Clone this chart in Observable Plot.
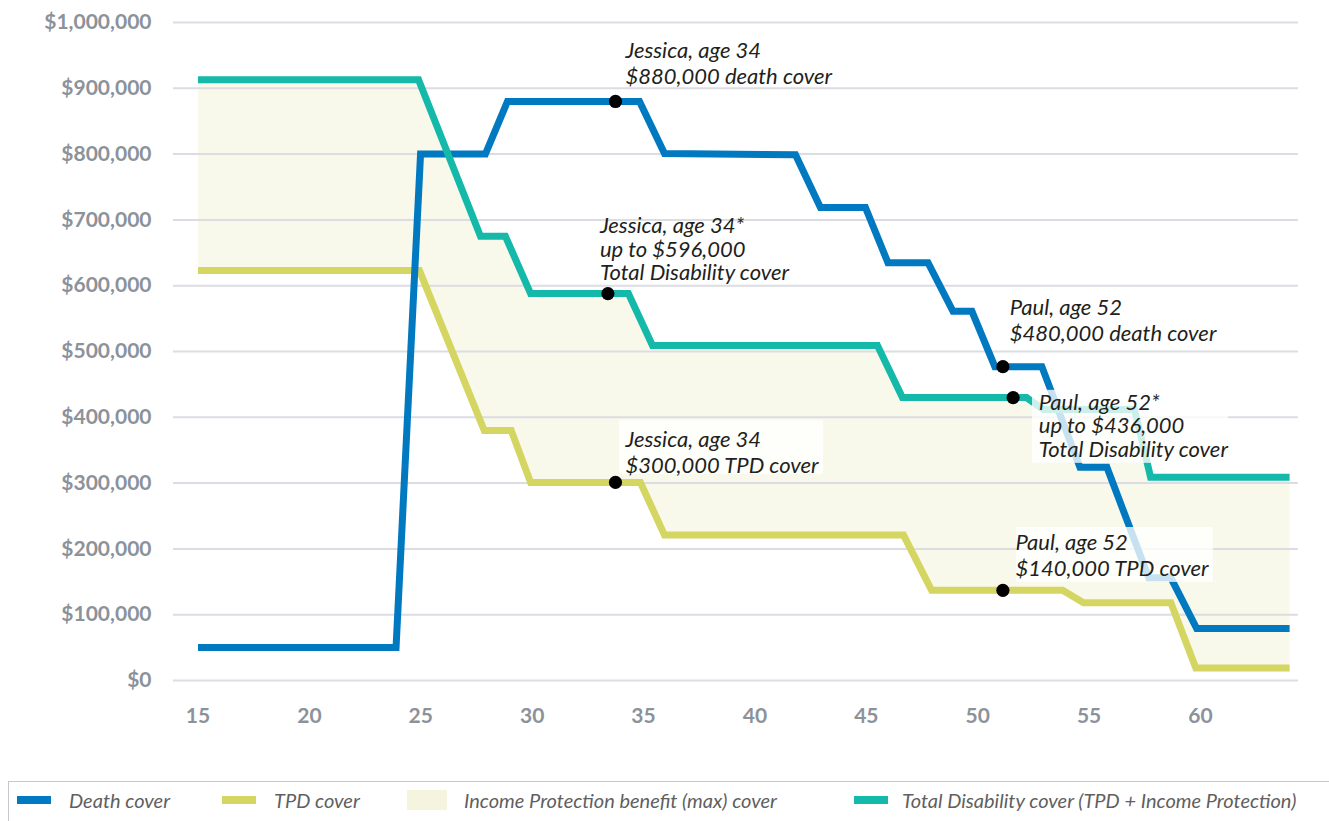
<!DOCTYPE html>
<html>
<head>
<meta charset="utf-8">
<script src="https://cdn.jsdelivr.net/npm/d3@7"></script>
<script src="https://cdn.jsdelivr.net/npm/@observablehq/plot@0.6"></script>
<style>
  html, body { margin: 0; padding: 0; background: #fff; }
  body { width: 1329px; height: 821px; overflow: hidden; position: relative; font-family: Lato, "Open Sans", sans-serif; }
  #chart svg { display: block; }
  #legendBox { position: absolute; left: 8px; top: 781px; width: 1340px; height: 60px; border: 1px solid #c4c7cb; box-sizing: border-box; }
  .lg-item { position: absolute; top: 781px; height: 38px; display: flex; align-items: center; }
  .lg-label { position: absolute; top: 781px; height: 38px; line-height: 38px; font-style: italic; font-size: 20px; color: #5f5f5f; white-space: nowrap; }
</style>
</head>
<body>
<div id="chart"></div>
<div id="legendBox"></div>
<div id="legend"></div>
<script>
// ---------- data ----------
const deathAge   = [15, 23.89, 24.99, 27.9, 28.89, 34.82, 35.94, 41.82, 42.94, 44.96, 45.97, 47.77, 48.89, 49.74, 50.77, 52.88, 54.59, 55.8, 57.68, 58.67, 59.83, 64];
const deathValue = [50000, 50000, 800000, 800000, 880000, 880000, 801000, 799000, 719000, 719000, 635000, 635000, 561000, 561000, 477000, 477000, 324000, 324000, 156000, 156000, 79000, 79000];

const tpdAge   = [15, 24.94, 27.85, 29.06, 29.93, 34.86, 35.94, 46.67, 47.93, 53.81, 54.75, 58.67, 59.79, 64];
const tpdValue = [623000, 623000, 380000, 380000, 301000, 301000, 221000, 221000, 137000, 137000, 118000, 118000, 19000, 19000];

const tdAge   = [15, 24.9, 27.68, 28.8, 29.93, 34.32, 35.4, 45.5, 46.62, 52.19, 52.95, 57.04, 57.76, 64];
const tdValue = [913000, 913000, 675000, 675000, 588000, 588000, 509000, 509000, 430000, 430000, 412000, 412000, 309000, 309000];

const xTicks = [15, 20, 25, 30, 35, 40, 45, 50, 55, 60];
const yTicks = [0, 100000, 200000, 300000, 400000, 500000, 600000, 700000, 800000, 900000, 1000000];

// highlighted points
const dotAge   = [33.74, 33.40, 33.74, 51.13, 51.59, 51.13];
const dotValue = [880000, 588000, 301000, 477000, 430000, 137000];

// annotations (anchor = left / top of first line)
const annText = [
  "Jessica, age 34\n$880,000 death cover",
  "Jessica, age 34*\nup to $596,000\nTotal Disability cover",
  "Jessica, age 34\n$300,000 TPD cover",
  "Paul, age 52\n$480,000 death cover",
  "Paul, age 52*\nup to $436,000\nTotal Disability cover",
  "Paul, age 52\n$140,000 TPD cover"
];
const annAge   = [34.19, 33.04, 34.19, 51.44, 52.74, 51.70];
const annValue = [975000, 705000, 384000, 584000, 437000, 227000];

// translucent label backgrounds
const boxAge1   = [33.92, 52.46, 51.74];
const boxAge2   = [43.08, 61.26, 60.58];
const boxValue1 = [395000, 441000, 232500];
const boxValue2 = [313000, 330000, 149000];

const legendLabels = ["Death cover", "TPD cover", "Income Protection benefit (max) cover", "Total Disability cover (TPD + Income Protection)"];

// ---------- styles ----------
const C_DEATH = "#0079c1", C_TPD = "#d5d562", C_TD = "#14b9a9", C_FILL = "#f8f8eb";

const rows = (ages, vals) => ages.map((a, i) => ({age: a, value: vals[i]}));
const deathRows = rows(deathAge, deathValue);
const tpdRows = rows(tpdAge, tpdValue);
const tdRows = rows(tdAge, tdValue);
const areaRows = [...tdRows, ...tpdRows.slice().reverse()];
const dots = rows(dotAge, dotValue);
const anns = annText.map((t, i) => ({text: t, age: annAge[i], value: annValue[i], lines: t.split("\n").length}));
const boxes = boxAge1.map((a, i) => ({a1: a, a2: boxAge2[i], v1: boxValue1[i], v2: boxValue2[i]}));

const lineOpts = {x: "age", y: "value", strokeWidth: 7, strokeLinejoin: "miter", strokeMiterlimit: 10, strokeLinecap: "butt"};
const textOpts = {x: "age", y: "value", text: "text", textAnchor: "start", lineAnchor: "top",
  fontFamily: "Lato", fontStyle: "italic", fontSize: 22, fill: "#231f20"};

const chart = Plot.plot({
  width: 1329, height: 781,
  marginLeft: 173, marginRight: 31, marginTop: 22, marginBottom: 101,
  x: {domain: [13.9, 64.4]},
  y: {domain: [0, 1000000]},
  style: {background: "white", overflow: "visible"},
  marks: [
    Plot.line(areaRows, {x: "age", y: "value", fill: C_FILL, stroke: "none"}),
    Plot.ruleY(yTicks, {stroke: "#dcdde2", strokeWidth: 2}),
    Plot.line(tpdRows, {...lineOpts, stroke: C_TPD}),
    Plot.line(deathRows, {...lineOpts, stroke: C_DEATH}),
    Plot.line(tdRows, {...lineOpts, stroke: C_TD}),
    Plot.dot(dots, {x: "age", y: "value", r: 6.6, fill: "black", stroke: "none"}),
    Plot.rect(boxes, {x1: "a1", x2: "a2", y1: "v1", y2: "v2", fill: "white", fillOpacity: 0.78}),
    Plot.text(anns.filter(d => d.lines === 2), {...textOpts, lineHeight: 1.2}),
    Plot.text(anns.filter(d => d.lines === 3), {...textOpts, lineHeight: 1.07}),
    Plot.axisX({ticks: xTicks, tickSize: 0, tickPadding: 28, tickFormat: d => String(d),
      fontFamily: "Lato", fontWeight: "bold", fontSize: 21, color: "#8b929a"}),
    Plot.axisY({ticks: yTicks, tickSize: 0, tickPadding: 22, tickFormat: d => "$" + d3.format(",")(d),
      fontFamily: "Lato", fontWeight: "bold", fontSize: 21, color: "#8b929a"})
  ]
});
document.getElementById("chart").appendChild(chart);

// ---------- legend ----------
const legendSwatch = [
  {left: 17, w: 34, h: 8, color: C_DEATH},
  {left: 222, w: 34, h: 8, color: C_TPD},
  {left: 407, w: 40, h: 20, color: "#f5f5df"},
  {left: 854, w: 34, h: 8, color: C_TD}
];
const legendTextLeft = [69, 274, 464, 902];
const lg = document.getElementById("legend");
legendLabels.forEach((lab, i) => {
  const s = legendSwatch[i];
  const it = document.createElement("div");
  it.className = "lg-item";
  it.style.left = s.left + "px";
  const sw = document.createElement("div");
  sw.style.width = s.w + "px"; sw.style.height = s.h + "px"; sw.style.background = s.color;
  it.appendChild(sw);
  lg.appendChild(it);
  const t = document.createElement("div");
  t.className = "lg-label";
  t.style.left = legendTextLeft[i] + "px";
  t.textContent = lab;
  lg.appendChild(t);
});
</script>
</body>
</html>
